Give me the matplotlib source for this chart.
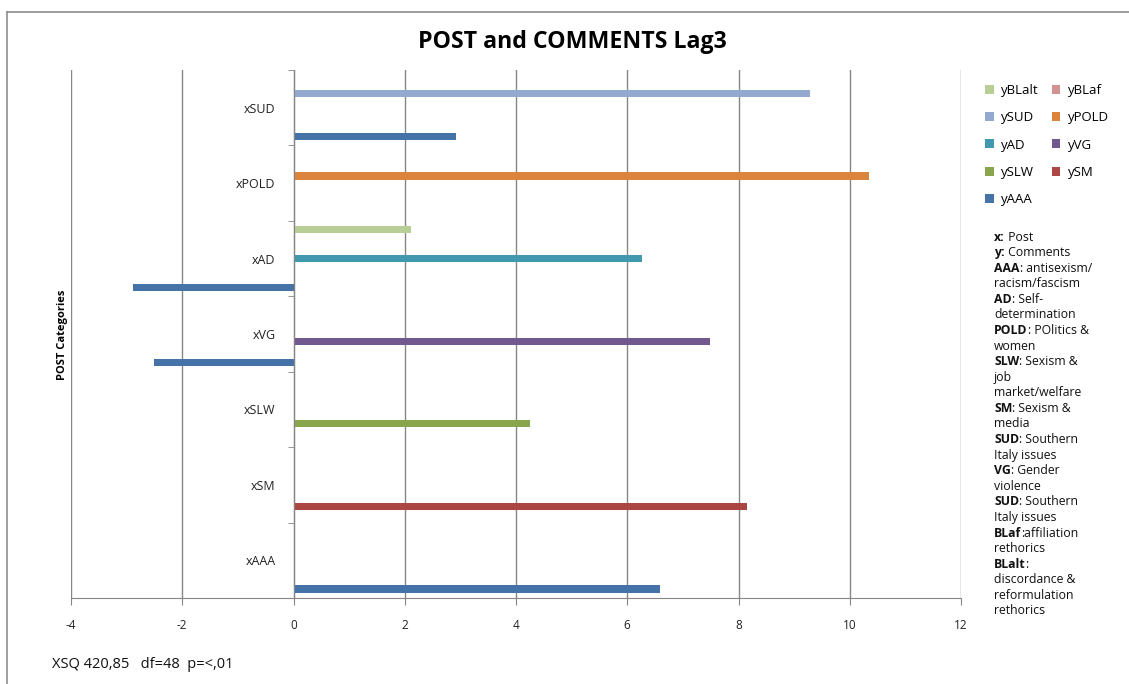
import matplotlib
matplotlib.use("Agg")
import matplotlib.pyplot as plt
from matplotlib.patches import Patch
from matplotlib.lines import Line2D
import numpy as np

categories = ['xAAA', 'xSM', 'xSLW', 'xVG', 'xAD', 'xPOLD', 'xSUD']
series_names = ['yAAA', 'ySM', 'ySLW', 'yVG', 'yAD', 'yPOLD', 'ySUD', 'yBLaf', 'yBLalt']
yAAA = [6.59, 0, 0, -2.51, -2.88, 0, 2.93]
ySM = [0, 8.16, 0, 0, 0, 0, 0]
ySLW = [0, 0, 4.26, 0, 0, 0, 0]
yVG = [0, 0, 0, 7.49, 0, 0, 0]
yAD = [0, 0, 0, 0, 6.27, 0, 0]
yPOLD = [0, 0, 0, 0, 0, 10.35, 0]
ySUD = [0, 0, 0, 0, 0, 0, 9.29]
yBLaf = [0, 0, 0, 0, 0, 0, 0]
yBLalt = [0, 0, 0, 0, 2.12, 0, 0]
series_values = [yAAA, ySM, ySLW, yVG, yAD, yPOLD, ySUD, yBLaf, yBLalt]
colors = ['#4573A7', '#AA4643', '#89A54E', '#71588F', '#4198AF',
          '#DB843D', '#93A9CF', '#D19392', '#B9CD96']
x_ticks = [-4, -2, 0, 2, 4, 6, 8, 10, 12]

FONT = 'Open Sans'
plt.rcParams['font.family'] = [FONT, 'DejaVu Sans']

fig = plt.figure(figsize=(11.29, 6.84), dpi=100)
W, H = 1129, 684
ax = fig.add_axes([71 / W, 1 - 598 / H, (961 - 71) / W, (598 - 70) / H])

grid_c = '#868686'
n = len(series_names)
gap = 1.5
slot = 1.0 / (n + gap)
ypos = np.arange(len(categories))
for i, (vals, c) in enumerate(zip(series_values, colors)):
    off = -0.5 + (gap / 2 + i + 0.5) * slot
    ax.barh(ypos + off, vals, height=slot, color=c, zorder=3)

ax.set_xlim(-4, 12)
ax.set_ylim(-0.5, len(categories) - 0.5)
ax.set_xticks(x_ticks)
ax.set_xticklabels([str(t) for t in x_ticks], fontsize=8.5, color='#222222')
for xv in x_ticks:
    ax.axvline(xv, color=grid_c, lw=1.0, zorder=1)

for s in ['top', 'right']:
    ax.spines[s].set_visible(False)
ax.spines['left'].set_position(('data', 0))
ax.spines['left'].set_color(grid_c)
ax.spines['left'].set_zorder(4)
ax.spines['bottom'].set_color(grid_c)
ax.tick_params(axis='x', direction='out', length=5, color=grid_c, pad=10)

ax.set_yticks(ypos)
ax.set_yticklabels(categories, fontsize=9, color='#222222')
ax.tick_params(axis='y', which='major', length=0, pad=13)
ax.set_yticks(np.arange(-0.5, len(categories), 1.0), minor=True)
ax.tick_params(axis='y', which='minor', direction='out', length=4, color=grid_c)

fig.text(62 / W, 1 - 335 / H, 'POST Categories', rotation=90, fontsize=8,
         fontweight='bold', ha='center', va='center')
fig.text(572 / W, 1 - 42 / H, 'POST and COMMENTS Lag3', fontsize=16.7,
         fontweight='bold', ha='center', va='center')
fig.text(52 / W, 1 - 664 / H, 'XSQ 420,85   df=48  p=<,01', fontsize=10.5,
         ha='left', va='center', color='#111111')

# border lines
fig.add_artist(Line2D([7 / W, 1], [1 - 12 / H, 1 - 12 / H], color='#8c8c8c', lw=1.2,
                      transform=fig.transFigure))
fig.add_artist(Line2D([7 / W, 7 / W], [0, 1 - 12 / H], color='#8c8c8c', lw=1.2,
                      transform=fig.transFigure))

# legend
order = ['yBLalt', 'ySUD', 'yAD', 'ySLW', 'yAAA', 'yBLaf', 'yPOLD', 'yVG', 'ySM']
handles = [Patch(facecolor=colors[series_names.index(nm)], label=nm) for nm in order]
leg = fig.legend(handles=handles, ncol=2, loc='upper left',
                 bbox_to_anchor=(985 / W, 1 - 84 / H), frameon=False,
                 fontsize=9.5, handlelength=0.65, handleheight=0.65,
                 handletextpad=0.55, columnspacing=1.0, labelspacing=1.08,
                 borderaxespad=0, borderpad=0)

# notes
notes = [
    ('x:', ' Post'), ('y:', ' Comments'), ('AAA', ': antisexism/'), ('', 'racism/fascism'),
    ('AD', ': Self-'), ('', 'determination'), ('POLD', ': POlitics &'), ('', 'women'),
    ('SLW', ': Sexism &'), ('', 'job'), ('', 'market/welfare'), ('SM', ': Sexism &'),
    ('', 'media'), ('SUD', ': Southern'), ('', 'Italy issues'), ('VG', ': Gender'),
    ('', 'violence'), ('SUD', ': Southern'), ('', 'Italy issues'),
    ('BLaf', ':affiliation'), ('', 'rethorics'), ('BLalt', ':'), ('', 'discordance &'),
    ('', 'reformulation'), ('', 'rethorics'),
]
fig.canvas.draw()
renderer = fig.canvas.get_renderer()
x0 = 994
y0 = 237
dy = 15.58
for k, (b, r) in enumerate(notes):
    yy = 1 - (y0 + k * dy) / H
    xx = x0
    if b:
        t = fig.text(xx / W, yy, b, fontsize=8.8, fontweight='bold', ha='left', va='center',
                     color='#111111')
        bb = t.get_window_extent(renderer)
        xx = bb.x1
    fig.text(xx / W, yy, r, fontsize=8.8, ha='left', va='center', color='#111111')

fig.savefig('out.png', dpi=100)
